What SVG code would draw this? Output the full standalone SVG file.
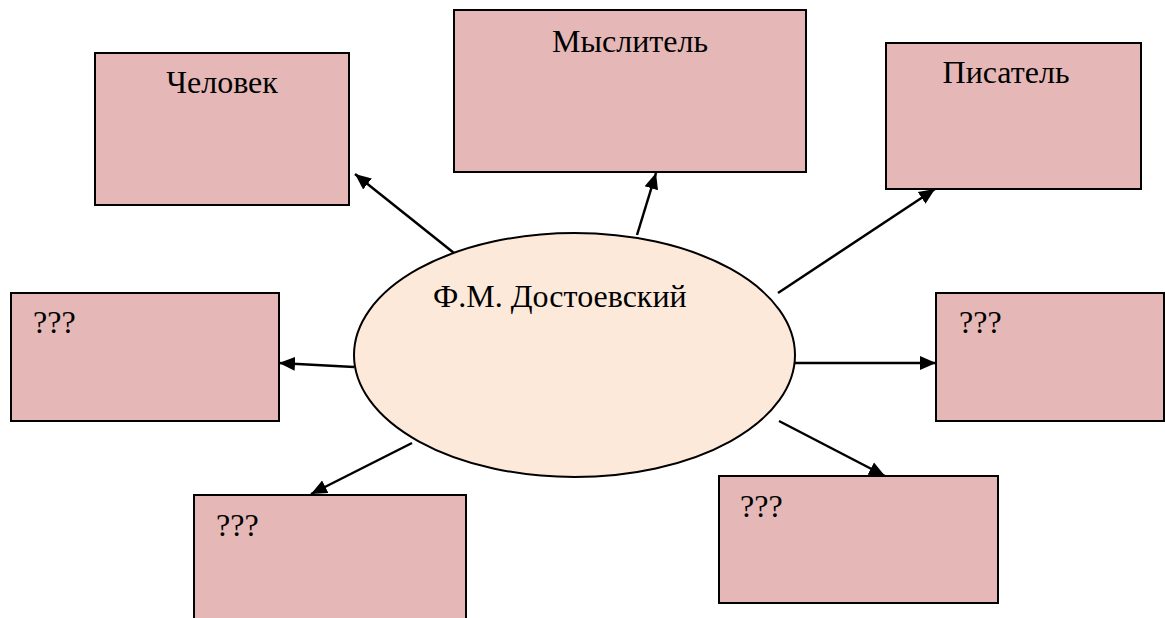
<svg xmlns="http://www.w3.org/2000/svg" width="1165" height="618" viewBox="0 0 1165 618">
<style>
.box{fill:#E5B8B7;stroke:#000;stroke-width:2}
.ell{fill:#FDE9D9;stroke:#000;stroke-width:2}
.lbl{font-family:"Liberation Serif","Times New Roman",serif;font-size:32px;fill:#000}
.c{text-anchor:middle}
.con{stroke:#000;stroke-width:2.5;fill:none;marker-end:url(#arr)}
</style>
<defs>
<marker id="arr" markerUnits="userSpaceOnUse" markerWidth="18" markerHeight="16" refX="16" refY="8" orient="auto">
<path d="M0,1 L16,8 L0,15 Z" fill="#000"/>
</marker>
</defs>
<rect width="1165" height="618" fill="#fff"/>
<g id="connectors">
<line class="con" x1="454" y1="253" x2="355" y2="174"/>
<line class="con" x1="637" y1="235" x2="656" y2="173"/>
<line class="con" x1="778" y1="293" x2="935" y2="189"/>
<line class="con" x1="354" y1="367" x2="279" y2="363"/>
<line class="con" x1="795" y1="363" x2="936" y2="363"/>
<line class="con" x1="412" y1="443" x2="311" y2="494"/>
<line class="con" x1="779" y1="421" x2="885" y2="476"/>
</g>
<g id="node-chelovek">
<rect class="box" x="95" y="53" width="254" height="152"/>
<text class="lbl c" x="222" y="93">Человек</text>
</g>
<g id="node-myslitel">
<rect class="box" x="454" y="10" width="352" height="162"/>
<text class="lbl c" x="630" y="52">Мыслитель</text>
</g>
<g id="node-pisatel">
<rect class="box" x="886" y="43" width="255" height="146"/>
<text class="lbl c" x="1006" y="83">Писатель</text>
</g>
<g id="node-left">
<rect class="box" x="11" y="293" width="268" height="128"/>
<text class="lbl" x="33" y="333">???</text>
</g>
<g id="node-right">
<rect class="box" x="936" y="293" width="228" height="128"/>
<text class="lbl" x="959" y="333">???</text>
</g>
<g id="node-bottom-left">
<rect class="box" x="194" y="495" width="272" height="135"/>
<text class="lbl" x="216" y="536">???</text>
</g>
<g id="node-bottom-right">
<rect class="box" x="719" y="476" width="279" height="127"/>
<text class="lbl" x="740" y="517">???</text>
</g>
<g id="node-dostoevsky">
<ellipse class="ell" cx="574.5" cy="355" rx="220.5" ry="122"/>
<text class="lbl" x="433" y="307">Ф.М. Достоевский</text>
</g>
</svg>
